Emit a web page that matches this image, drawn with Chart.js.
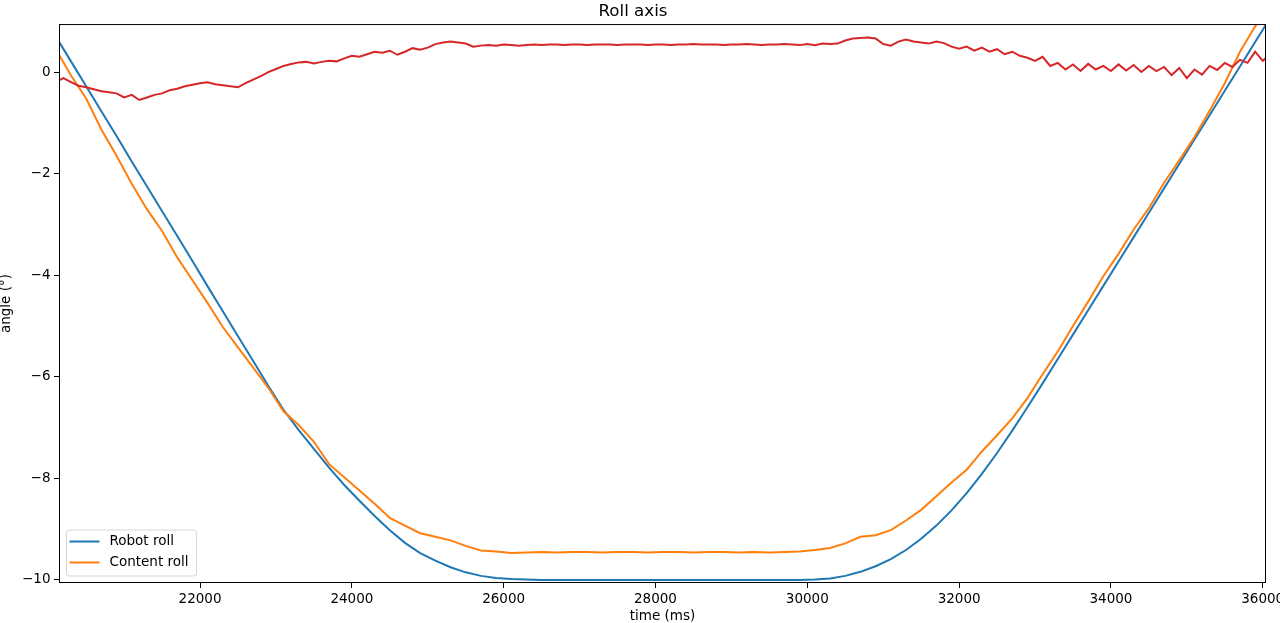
<!DOCTYPE html>
<html>
<head>
<meta charset="utf-8">
<script src="https://cdn.jsdelivr.net/npm/chart.js@4"></script>
<style>
  body { margin: 0; background: #fff; }
  #c { display: block; }
</style>
</head>
<body>
<canvas id="c" width="1280" height="623"></canvas>
<script>
// sample times (ms), 200 ms apart for the two roll curves
const timeCoarse = [20100,20300,20500,20700,20900,21100,21300,21500,21700,21900,
  22100,22300,22500,22700,22900,23100,23300,23500,23700,23900,
  24100,24300,24500,24700,24900,25100,25300,25500,25700,25900,
  26100,26300,26500,26700,26900,27100,27300,27500,27700,27900,
  28100,28300,28500,28700,28900,29100,29300,29500,29700,29900,
  30100,30300,30500,30700,30900,31100,31300,31500,31700,31900,
  32100,32300,32500,32700,32900,33100,33300,33500,33700,33900,
  34100,34300,34500,34700,34900,35100,35300,35500,35700,35900,36100];

const robotRoll = [0.70,0.21,-0.28,-0.77,-1.26,-1.76,-2.25,-2.74,-3.23,-3.72,
  -4.22,-4.71,-5.20,-5.69,-6.18,-6.65,-7.05,-7.42,-7.79,-8.13,
  -8.44,-8.74,-9.02,-9.27,-9.47,-9.62,-9.75,-9.85,-9.92,-9.96,
  -9.98,-9.99,-10,-10,-10,-10,-10,-10,-10,-10,
  -10,-10,-10,-10,-10,-10,-10,-10,-10,-10,
  -9.99,-9.97,-9.92,-9.84,-9.73,-9.59,-9.41,-9.19,-8.93,-8.63,
  -8.29,-7.91,-7.50,-7.06,-6.60,-6.13,-5.65,-5.17,-4.69,-4.21,
  -3.73,-3.25,-2.77,-2.29,-1.81,-1.33,-0.85,-0.37,0.11,0.59,1.07];

const contentRoll = [0.45,-0.07,-0.52,-1.13,-1.65,-2.20,-2.70,-3.13,-3.65,-4.10,
  -4.55,-5.02,-5.42,-5.82,-6.22,-6.68,-6.95,-7.28,-7.72,-7.98,
  -8.24,-8.50,-8.78,-8.93,-9.08,-9.15,-9.22,-9.33,-9.42,-9.44,
  -9.47,-9.46,-9.45,-9.46,-9.45,-9.45,-9.46,-9.45,-9.45,-9.46,
  -9.45,-9.45,-9.46,-9.45,-9.45,-9.46,-9.45,-9.46,-9.45,-9.44,
  -9.41,-9.37,-9.28,-9.15,-9.12,-9.02,-8.83,-8.62,-8.35,-8.08,
  -7.83,-7.47,-7.15,-6.82,-6.42,-5.95,-5.50,-5.00,-4.52,-4.02,
  -3.58,-3.10,-2.68,-2.18,-1.74,-1.28,-0.76,-0.22,0.40,0.90,1.30];

// the red trace is noisier, so it is read every 100 ms
const timeFine = [20100,20200,20300,20400,20500,20600,20700,20800,20900,21000,
  21100,21200,21300,21400,21500,21600,21700,21800,21900,22000,
  22100,22200,22300,22400,22500,22600,22700,22800,22900,23000,
  23100,23200,23300,23400,23500,23600,23700,23800,23900,24000,
  24100,24200,24300,24400,24500,24600,24700,24800,24900,25000,
  25100,25200,25300,25400,25500,25600,25700,25800,25900,26000,
  26100,26200,26300,26400,26500,26600,26700,26800,26900,27000,
  27100,27200,27300,27400,27500,27600,27700,27800,27900,28000,
  28100,28200,28300,28400,28500,28600,28700,28800,28900,29000,
  29100,29200,29300,29400,29500,29600,29700,29800,29900,30000,
  30100,30200,30300,30400,30500,30600,30700,30800,30900,31000,
  31100,31200,31300,31400,31500,31600,31700,31800,31900,32000,
  32100,32200,32300,32400,32500,32600,32700,32800,32900,33000,
  33100,33200,33300,33400,33500,33600,33700,33800,33900,34000,
  34100,34200,34300,34400,34500,34600,34700,34800,34900,35000,
  35100,35200,35300,35400,35500,35600,35700,35800,35900,36000,36100];

const rollDiff = [-0.20,-0.12,-0.20,-0.27,-0.30,-0.34,-0.38,-0.40,-0.42,-0.50,
  -0.45,-0.55,-0.50,-0.45,-0.42,-0.36,-0.33,-0.28,-0.25,-0.22,
  -0.20,-0.24,-0.26,-0.28,-0.30,-0.22,-0.15,-0.08,0.00,0.06,
  0.12,0.16,0.19,0.20,0.17,0.20,0.22,0.21,0.27,0.32,
  0.30,0.35,0.40,0.38,0.42,0.34,0.40,0.47,0.44,0.48,
  0.55,0.58,0.60,0.58,0.56,0.50,0.52,0.53,0.52,0.54,
  0.53,0.52,0.53,0.54,0.53,0.54,0.54,0.53,0.54,0.54,
  0.53,0.54,0.54,0.54,0.53,0.54,0.54,0.54,0.53,0.54,
  0.54,0.53,0.54,0.54,0.55,0.54,0.54,0.54,0.53,0.54,
  0.54,0.55,0.54,0.53,0.54,0.54,0.55,0.54,0.53,0.55,
  0.53,0.56,0.55,0.56,0.62,0.66,0.67,0.68,0.66,0.55,
  0.52,0.60,0.64,0.60,0.58,0.56,0.60,0.57,0.50,0.46,
  0.50,0.42,0.48,0.40,0.45,0.35,0.40,0.32,0.28,0.22,
  0.30,0.12,0.18,0.05,0.15,0.02,0.16,0.05,0.12,0.02,
  0.15,0.03,0.14,0.00,0.12,0.02,0.10,-0.06,0.08,-0.12,
  0.05,-0.05,0.12,0.04,0.18,0.10,0.24,0.18,0.40,0.22,0.35];

const xTicks = [22000,24000,26000,28000,30000,32000,34000,36000];
const yTicks = [0,-2,-4,-6,-8,-10];

const font = 'DejaVu Sans';

function pts(xs, ys){
  let out = [];
  for(let i=0;i<xs.length;i++) out.push({x: xs[i], y: ys[i]});
  return out;
}

// fixed box sizes, no extra room for overhanging tick labels
function fixBox(w, h){
  return function(s){
    if(w) s.width = w;
    if(h) s.height = h;
    s.paddingLeft = s.paddingRight = s.paddingTop = s.paddingBottom = 0;
  };
}

// box around the plot + matplotlib style legend in the lower left
const frameLegend = {
  id: 'frameLegend',
  afterDraw(chart){
    const ctx = chart.ctx, a = chart.chartArea;
    ctx.save();
    ctx.strokeStyle = '#000';
    ctx.lineWidth = 1;
    ctx.strokeRect(a.left + 0.5, a.top + 0.5, a.right - a.left - 1, a.bottom - a.top - 1);

    let items = chart.data.datasets.filter(d => d.label);
    let bx = a.left + 7.5, by = a.bottom - 53, bw = 130, bh = 46;
    ctx.beginPath();
    ctx.roundRect(bx, by, bw, bh, 3);
    ctx.fillStyle = 'rgba(255,255,255,0.8)';
    ctx.fill();
    ctx.strokeStyle = 'rgba(204,204,204,0.8)';
    ctx.stroke();

    ctx.font = '13.5px "' + font + '"';
    ctx.textBaseline = 'middle';
    items.forEach((d, i) => {
      let y = by + 11.5 + i * 21;
      ctx.strokeStyle = d.borderColor;
      ctx.lineWidth = 2;
      ctx.beginPath();
      ctx.moveTo(bx + 3, y);
      ctx.lineTo(bx + 33, y);
      ctx.stroke();
      ctx.fillStyle = '#000';
      ctx.fillText(d.label, bx + 43, y);
    });
    ctx.restore();
  }
};

new Chart(document.getElementById('c'), {
  type: 'line',
  data: {
    datasets: [
      { label: 'Robot roll', data: pts(timeCoarse, robotRoll), borderColor: '#1f77b4', order: 2 },
      { label: 'Content roll', data: pts(timeCoarse, contentRoll), borderColor: '#ff7f0e', order: 1 },
      { label: '', data: pts(timeFine, rollDiff), borderColor: '#d62728', order: 0 }
    ]
  },
  options: {
    responsive: false,
    animation: false,
    devicePixelRatio: 1,
    layout: { padding: { left: 0, right: 14, top: 0, bottom: 0 } },
    elements: {
      point: { radius: 0 },
      line: { borderWidth: 2, tension: 0, fill: false }
    },
    datasets: { line: { clip: 0 } },
    plugins: {
      legend: { display: false },
      tooltip: { enabled: false },
      title: {
        display: true,
        text: 'Roll axis',
        color: '#000',
        font: { family: font, size: 16.7, weight: 'normal' },
        padding: { top: 1.5, bottom: 2.5 }
      }
    },
    scales: {
      x: {
        type: 'linear',
        min: 20142,
        max: 36043,
        afterFit: fixBox(0, 40),
        afterBuildTicks(s){ s.ticks = xTicks.map(v => ({ value: v })); },
        grid: { drawOnChartArea: false, drawTicks: true, tickLength: 5, color: '#000' },
        border: { display: false },
        ticks: {
          color: '#000',
          padding: 3,
          maxRotation: 0,
          font: { family: font, size: 13.5 },
          callback: v => String(v)
        },
        title: {
          display: true,
          text: 'time (ms)',
          color: '#000',
          font: { family: font, size: 13.5, lineHeight: 1 },
          padding: { top: 0, bottom: -0.5 }
        }
      },
      y: {
        type: 'linear',
        min: -10.06,
        max: 0.945,
        afterFit: fixBox(59, 0),
        afterBuildTicks(s){ s.ticks = yTicks.map(v => ({ value: v })); },
        grid: { drawOnChartArea: false, drawTicks: true, tickLength: 5, color: '#000' },
        border: { display: false },
        ticks: {
          color: '#000',
          padding: 3.5,
          font: { family: font, size: 13.5 },
          callback: v => v < 0 ? '\u2212' + Math.abs(v) : String(v)
        },
        title: {
          display: true,
          text: 'angle (°)',
          color: '#000',
          font: { family: font, size: 13.5, lineHeight: 1 },
          padding: { top: 0, bottom: 0 }
        }
      }
    }
  },
  plugins: [frameLegend]
});
</script>
</body>
</html>
